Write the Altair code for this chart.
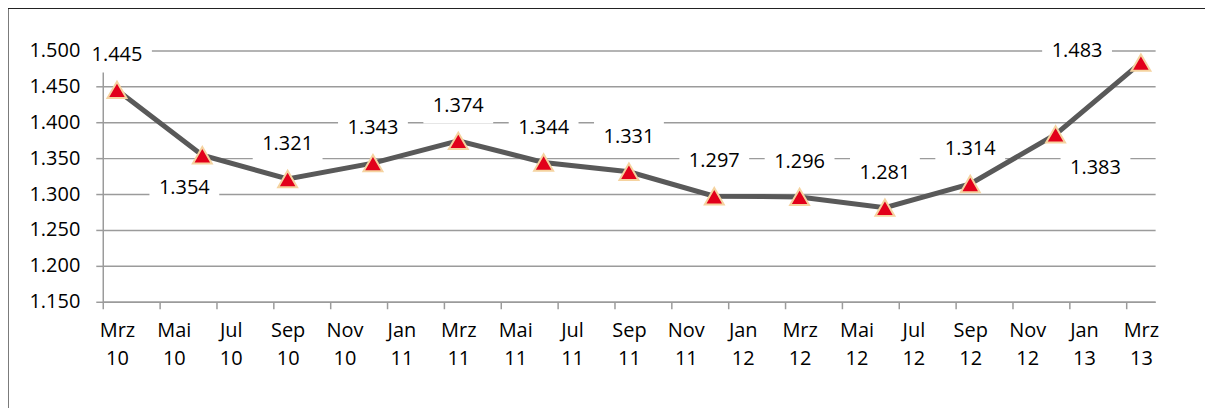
import json
import altair as alt
import pandas as pd

# Quarterly values (months counted from Mrz 2010)
months = [0, 3, 6, 9, 12, 15, 18, 21, 24, 27, 30, 33, 36]
values = [1445, 1354, 1321, 1343, 1374, 1344, 1331, 1297, 1296, 1281, 1314, 1383, 1483]
label_place = ["above", "below_left", "above", "above", "above", "above", "above",
               "above", "above", "above", "above", "below_right", "left"]

# X axis labels every two months
tick_labels = ["Mrz 10", "Mai 10", "Jul 10", "Sep 10", "Nov 10", "Jan 11", "Mrz 11",
               "Mai 11", "Jul 11", "Sep 11", "Nov 11", "Jan 12", "Mrz 12", "Mai 12",
               "Jul 12", "Sep 12", "Nov 12", "Jan 13", "Mrz 13"]
tick_months = [2 * i for i in range(len(tick_labels))]
y_ticks = [1150, 1200, 1250, 1300, 1350, 1400, 1450, 1500]

# label placement (pixel offsets)
place_offsets = {"above": (0, -35), "below_left": (-18, 33),
                 "below_right": (40, 34), "left": (-64, -12)}

W, H = 1055, 252
half_month = W / 37 / 2
FONT = "Open Sans"
GRID = "#9b9b9b"

df = pd.DataFrame({"m": months, "v": values, "place": label_place})

label_arr = json.dumps([s.split(" ") for s in tick_labels])

x_enc = alt.X(
    "m:Q",
    scale=alt.Scale(domain=[-0.5, 36.5], nice=False, zero=False),
    axis=alt.Axis(
        values=tick_months, title=None, grid=False,
        domainColor=GRID, domainWidth=1.5,
        tickColor=GRID, tickWidth=1.5, tickSize=7,
        tickOffset=-half_month, labelOffset=half_month,
        labelExpr=f"{label_arr}[round(datum.value / 2)]",
        labelFont=FONT, labelFontSize=20, labelColor="black",
        labelLineHeight=28, labelPadding=12, labelAngle=0,
        labelFlush=False, labelOverlap=False, labelBaseline="top",
    ),
)
y_enc = alt.Y(
    "v:Q",
    scale=alt.Scale(domain=[1150, 1500], nice=False, zero=False),
    axis=alt.Axis(
        values=y_ticks, title=None, grid=True,
        gridColor=GRID, gridWidth=1.5,
        domainColor=GRID, domainWidth=1.5,
        tickColor=GRID, tickWidth=1.5, tickSize=7,
        labelExpr="replace(format(datum.value, ','), ',', '.')",
        labelFont=FONT, labelFontSize=20, labelColor="black",
        labelPadding=16, labelFlush=False, labelOverlap=False,
    ),
)

base = alt.Chart(df).encode(x=x_enc, y=y_enc).transform_calculate(
    lbl="replace(format(datum.v, ','), ',', '.')"
)

box_path = "M-1,-0.5L1,-0.5L1,0.5L-1,0.5Z"
layers = []
for place, (dx, dy) in place_offsets.items():
    sub = base.transform_filter(alt.datum.place == place)
    layers.append(sub.mark_point(shape=box_path, filled=True, fill="white",
                                 strokeWidth=0, size=4900, opacity=1,
                                 xOffset=dx, yOffset=dy))
    layers.append(sub.mark_text(font=FONT, fontSize=20, color="black",
                                baseline="middle", align="center",
                                dx=dx, dy=dy).encode(text="lbl:N"))

line = base.mark_line(color="#595959", strokeWidth=5)
points = base.mark_point(shape="triangle-up", filled=True, fill="#E2001A",
                         stroke="#F5D3A0", strokeWidth=2, size=360, opacity=1)

one = alt.Chart(pd.DataFrame({"a": [0]}))
border_top = one.mark_rule(color="#222222", strokeWidth=1.2).encode(
    x=alt.value(-95), x2=alt.value(1160), y=alt.value(-42))
border_left = one.mark_rule(color="#222222", strokeWidth=1.2).encode(
    x=alt.value(-95), y=alt.value(-42), y2=alt.value(420))

chart = alt.layer(*layers, line, points, border_top, border_left).properties(
    width=W, height=H,
    padding={"left": 95, "top": 42, "right": 50, "bottom": 106},
    autosize=alt.AutoSizeParams(type="none"),
    background="white",
).configure_view(stroke=None)

chart.save("out.html", embed_options={"renderer": "svg", "actions": False})
